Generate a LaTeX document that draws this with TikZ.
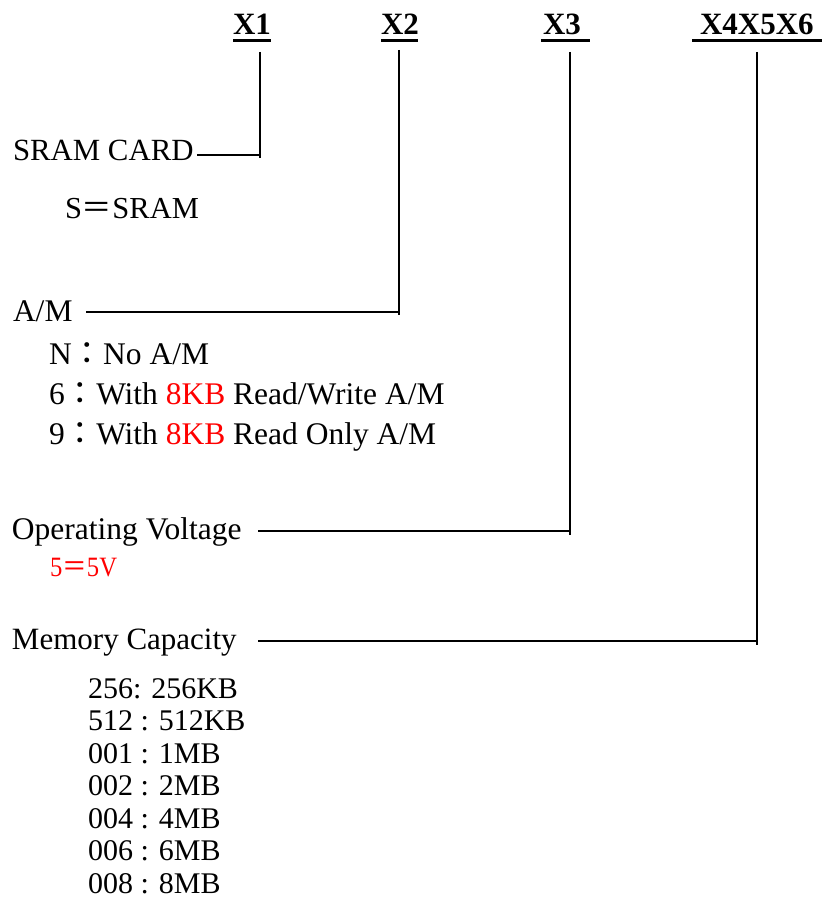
\documentclass[tikz,border=0pt]{standalone}
\usepackage{fontspec}
\setmainfont{Liberation Serif}
\newfontfamily\cjk{Noto Sans CJK TC}
\begin{document}
\begin{tikzpicture}[x=1pt,y=-1pt,
  txt/.style={anchor=base west,inner sep=0pt,outer sep=0pt,font=\fontsize{31.5}{36}\selectfont},
  head/.style={anchor=base west,inner sep=0pt,outer sep=0pt,font=\fontsize{31}{36}\selectfont\bfseries},
  lst/.style={anchor=base west,inner sep=0pt,outer sep=0pt,font=\fontsize{30}{33}\selectfont},
  conn/.style={line width=1.4pt},
  uline/.style={line width=2.6pt}]
\useasboundingbox (0,0) rectangle (822,899);
% headings
\node[head] (x1) at (233,35) {X1};
\node[head] (x2) at (381,35) {X2};
\node[head] (x3) at (543,35) {X3};
\node[head] (x456) at (700,35) {X4X5X6};
\draw[uline] (233,40.5) -- (271,40.5);
\draw[uline] (381,40.5) -- (418,40.5);
\draw[uline] (541,40.5) -- (590,40.5);
\draw[uline] (692,40.5) -- (822,40.5);
% vertical connectors
\coordinate (v1t) at (260,52);  \coordinate (v1b) at (260,158);
\coordinate (v2t) at (399,50);  \coordinate (v2b) at (399,315);
\coordinate (v3t) at (570,52);  \coordinate (v3b) at (570,535);
\coordinate (v4t) at (757,52);  \coordinate (v4b) at (757,645);
\draw[conn] (v1t) -- (v1b);
\draw[conn] (v2t) -- (v2b);
\draw[conn] (v3t) -- (v3b);
\draw[conn] (v4t) -- (v4b);
% labels
\node[txt,font=\fontsize{30.8}{36}\selectfont] (sram) at (13,160) {SRAM CARD};
\node[txt,font=\fontsize{30.5}{36}\selectfont] (s) at (65,218) {S{\cjk ＝}SRAM};
\node[txt] (am) at (13,321) {A/M};
\node[txt] (n) at (49,364) {N{\cjk ：}No A/M};
\node[txt] (six) at (49,404) {6{\cjk ：}With {\color{red}8KB} Read/Write A/M};
\node[txt] (nine) at (49,444) {9{\cjk ：}With {\color{red}8KB} Read Only A/M};
\node[txt] (ov) at (12,539) {Operating Voltage};
\node[txt,text=red,font=\fontsize{28}{33}\selectfont] (v5) at (50,576) {\scalebox{0.88}[1]{5{\cjk ＝}5V}};
\node[txt,font=\fontsize{31}{36}\selectfont] (mc) at (12,649) {Memory Capacity};
\node[lst] (l1) at (88,698) {256: 256KB};
\node[lst] (l2) at (88,730.5) {512 : 512KB};
\node[lst] (l3) at (88,763) {001 : 1MB};
\node[lst] (l4) at (88,795.5) {002 : 2MB};
\node[lst] (l5) at (88,828) {004 : 4MB};
\node[lst] (l6) at (88,860.5) {006 : 6MB};
\node[lst] (l7) at (88,893) {008 : 8MB};
% horizontal connectors
\coordinate (h1s) at (197,155);
\coordinate (h2s) at (86,312);
\coordinate (h3s) at (258,531);
\coordinate (h4s) at (258,641);
\draw[conn] (h1s) -- (h1s -| v1b);
\draw[conn] (h2s) -- (h2s -| v2b);
\draw[conn] (h3s) -- (h3s -| v3b);
\draw[conn] (h4s) -- (h4s -| v4b);
\end{tikzpicture}
\end{document}
